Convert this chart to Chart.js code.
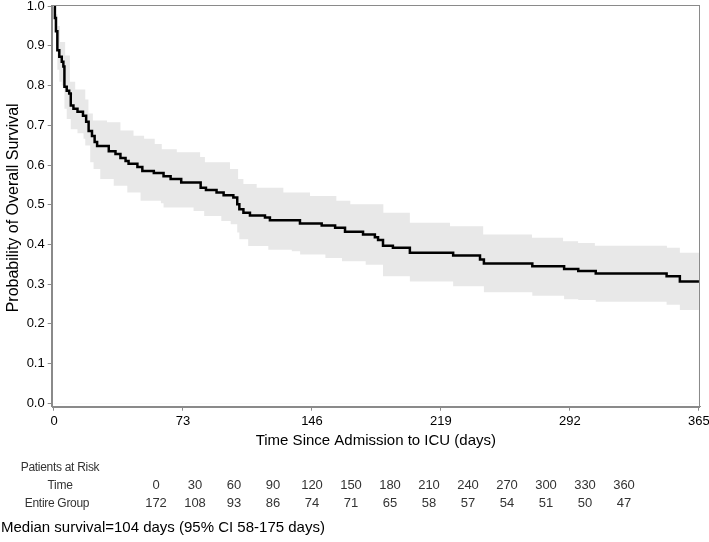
<!DOCTYPE html>
<html>
<head>
<meta charset="utf-8">
<script src="https://cdn.jsdelivr.net/npm/chart.js@4/dist/chart.umd.min.js"></script>
<style>
  html, body { margin: 0; padding: 0; background: #fff; }
  #wrap { position: relative; width: 709px; height: 542px; overflow: hidden; }
  canvas { position: absolute; left: 0; top: 0; }
  .rt { position: absolute; font-family: 'Liberation Sans', Arial, sans-serif; font-size: 13px; color: #333; line-height: 16px; white-space: nowrap; }
  .lab { font-size: 12px; letter-spacing: -0.3px; }
  .c { transform: translateX(-50%); text-align: center; }
  #median { position: absolute; left: 1px; top: 518px; font-family: 'Liberation Sans', Arial, sans-serif; font-size: 15px; color: #000; white-space: nowrap; line-height: 18px; }
</style>
</head>
<body>
<div id="wrap">
  <canvas id="c" width="709" height="542"></canvas>
</div>
<script>
// ---- Data ----
const kmTime = [0, 0.5, 1.1, 1.9, 3.0, 4.4, 5.3, 5.9, 7.2, 8.6, 9.5, 11, 13.3, 16.4, 18.2, 19.6, 21.5, 23, 24.4, 31, 34.8, 37.6, 40.5, 42.2, 47.2, 50, 56.5, 62, 66, 72, 83, 86, 92, 96, 101.5, 103.7, 104.9, 107.2, 110.9, 119.4, 122.2, 139.2, 151.5, 159.1, 164.7, 174.9, 181.6, 183.4, 186.2, 191.8, 201.4, 225.9, 241.1, 243.3, 270.7, 288.7, 296.7, 306.6, 346.7, 354.2, 365];
const kmSurv = [1.0, 0.97, 0.937, 0.889, 0.873, 0.86, 0.848, 0.797, 0.787, 0.78, 0.75, 0.742, 0.734, 0.724, 0.709, 0.686, 0.673, 0.658, 0.648, 0.635, 0.628, 0.618, 0.61, 0.603, 0.595, 0.585, 0.58, 0.572, 0.565, 0.556, 0.543, 0.537, 0.531, 0.524, 0.518, 0.501, 0.489, 0.48, 0.473, 0.468, 0.461, 0.453, 0.448, 0.442, 0.432, 0.425, 0.418, 0.411, 0.397, 0.392, 0.379, 0.372, 0.362, 0.352, 0.345, 0.338, 0.333, 0.327, 0.32, 0.307, 0.307];

const upperTime = [0, 1, 2, 3.4, 6.3, 9, 12, 17.7, 19.5, 22, 30, 37.6, 45, 51, 57, 61, 69.5, 82.7, 85.4, 99.6, 104.2, 107.2, 114.7, 129.8, 144.9, 159.8, 167.7, 186.4, 201.4, 224.1, 242.9, 270.5, 288.1, 296.6, 306.1, 346.9, 354.2, 365];
const upperVal = [1.0, 0.98, 0.95, 0.91, 0.876, 0.81, 0.79, 0.765, 0.73, 0.712, 0.708, 0.687, 0.674, 0.666, 0.653, 0.64, 0.632, 0.62, 0.607, 0.59, 0.565, 0.552, 0.543, 0.531, 0.522, 0.51, 0.501, 0.48, 0.455, 0.446, 0.425, 0.417, 0.408, 0.404, 0.397, 0.392, 0.379, 0.379];

const lowerTime = [0, 0.5, 1.1, 1.9, 3, 4.4, 5.9, 7.2, 9.5, 13.3, 16.7, 17.7, 20.5, 22.4, 26.2, 33.8, 41.5, 49, 60.5, 62, 79, 85, 94.7, 100, 103.7, 104.9, 109.9, 121.3, 134.6, 139.3, 153.6, 163, 176.4, 186.2, 201.4, 225.9, 243.3, 270.7, 288.7, 296.7, 306.6, 346.7, 354.2, 365];
const lowerVal = [1.0, 0.95, 0.90, 0.84, 0.81, 0.80, 0.742, 0.716, 0.69, 0.68, 0.666, 0.649, 0.607, 0.59, 0.565, 0.548, 0.531, 0.51, 0.504, 0.493, 0.484, 0.472, 0.459, 0.451, 0.43, 0.413, 0.396, 0.387, 0.383, 0.375, 0.366, 0.358, 0.349, 0.32, 0.307, 0.295, 0.28, 0.271, 0.262, 0.26, 0.256, 0.248, 0.235, 0.235];

const xTicks = [0, 73, 146, 219, 292, 365];
const yTicks = [0.0, 0.1, 0.2, 0.3, 0.4, 0.5, 0.6, 0.7, 0.8, 0.9, 1.0];

const riskTimes = [0, 30, 60, 90, 120, 150, 180, 210, 240, 270, 300, 330, 360];
const riskCounts = [172, 108, 93, 86, 74, 71, 65, 58, 57, 54, 51, 50, 47];

const xTitle = 'Time Since Admission to ICU (days)';
const yTitle = 'Probability of Overall Survival';
const medianText = 'Median survival=104 days (95% CI 58-175 days)';

// ---- Build chart ----
const pts = (t, v) => t.map((x, i) => ({ x: x, y: v[i] }));
const AXIS = '#8a8a8a';
const FONT = "'Liberation Sans', Arial, sans-serif";

const frame = {
  id: 'frame',
  afterDraw(chart) {
    const { ctx, chartArea: a } = chart;
    ctx.save();
    ctx.strokeStyle = AXIS;
    ctx.lineWidth = 1;
    ctx.strokeRect(Math.round(a.left) + 0.5, Math.round(a.top) + 0.5, Math.round(a.right - a.left) - 1, Math.round(a.bottom - a.top));
    // y title
    ctx.fillStyle = '#000';
    ctx.font = '16px ' + FONT;
    ctx.textAlign = 'center';
    ctx.textBaseline = 'middle';
    ctx.translate(14, (a.top + a.bottom) / 2 + 2);
    ctx.rotate(-Math.PI / 2);
    ctx.fillText(yTitle, 0, 0);
    ctx.restore();
  }
};

new Chart(document.getElementById('c'), {
  type: 'line',
  data: {
    datasets: [
      { data: pts(kmTime, kmSurv), borderColor: '#000', borderWidth: 2.5, stepped: true, pointRadius: 0, fill: false, order: 0 },
      { data: pts(lowerTime, lowerVal), borderWidth: 0, borderColor: 'rgba(0,0,0,0)', stepped: true, pointRadius: 0, fill: { target: 'origin' }, backgroundColor: '#ffffff', order: 1 },
      { data: pts(upperTime, upperVal), borderWidth: 0, borderColor: 'rgba(0,0,0,0)', stepped: true, pointRadius: 0, fill: { target: 'origin' }, backgroundColor: '#e8e8e8', order: 2 }
    ]
  },
  options: {
    responsive: false,
    animation: false,
    events: [],
    layout: { padding: { left: 0, top: 5, right: 9, bottom: 92 } },
    plugins: { legend: { display: false }, tooltip: { enabled: false } },
    scales: {
      x: {
        type: 'linear',
        min: -1.3,
        max: 365.6,
        afterBuildTicks: s => { s.ticks = xTicks.map(v => ({ value: v })); },
        afterFit: s => { s.height = 43.3; s.paddingLeft = 0; s.paddingRight = 0; },
        ticks: { color: '#000', font: { family: FONT, size: 13 }, padding: 3, maxRotation: 0, autoSkip: false, callback: v => String(v) },
        grid: { display: true, drawOnChartArea: false, drawTicks: true, tickLength: 4, color: AXIS },
        border: { display: true, color: AXIS, width: 1 },
        title: { display: true, text: xTitle, color: '#000', font: { family: FONT, size: 15 }, padding: { top: 0, bottom: 0 } }
      },
      y: {
        type: 'linear',
        min: -0.0085,
        max: 1.003,
        afterBuildTicks: s => { s.ticks = yTicks.map(v => ({ value: v })); },
        afterFit: s => { s.width = 51.7; s.paddingTop = 0; s.paddingBottom = 0; },
        ticks: { color: '#000', font: { family: FONT, size: 13 }, padding: 3, autoSkip: false, callback: v => Number(v).toFixed(1) },
        grid: { display: true, drawOnChartArea: false, drawTicks: true, tickLength: 4, color: AXIS },
        border: { display: true, color: AXIS, width: 1 }
      }
    }
  },
  plugins: [frame]
});

// ---- Risk table and footnote as real text ----
const wrap = document.getElementById('wrap');
function addText(txt, x, y, cls) {
  const d = document.createElement('div');
  d.className = cls;
  d.textContent = txt;
  d.style.left = x + 'px';
  d.style.top = (y - 8) + 'px';
  wrap.appendChild(d);
}
addText('Patients at Risk', 60, 467, 'rt lab c');
addText('Time', 60, 485, 'rt lab c');
addText('Entire Group', 57, 503, 'rt lab c');
riskTimes.forEach((t, i) => addText(String(t), 156 + 39 * i, 485, 'rt c'));
riskCounts.forEach((n, i) => addText(String(n), 156 + 39 * i, 503, 'rt c'));
const m = document.createElement('div');
m.id = 'median';
m.textContent = medianText;
wrap.appendChild(m);
</script>
</body>
</html>
